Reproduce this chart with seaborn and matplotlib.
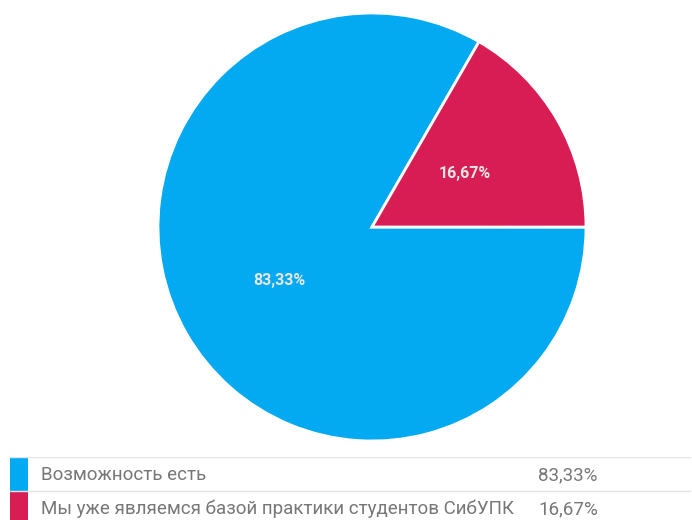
import numpy as np
import pandas as pd
import seaborn as sns
import matplotlib.pyplot as plt

categories = ["Возможность есть", "Мы уже являемся базой практики студентов СибУПК"]
values = [83.33, 16.67]
value_labels = ["83,33%", "16,67%"]
colors = ["#03a9f1", "#d81d55"]

sns.set_theme(style="white")
plt.rcParams['font.family'] = ['Roboto', 'DejaVu Sans']

fig = plt.figure(figsize=(6.92, 5.2), dpi=100)

# pie area
ax = fig.add_axes([158 / 692, 79 / 520, 428 / 692, 428 / 520])
wedges, texts, autotexts = ax.pie(
    values, colors=colors, startangle=60, counterclock=True,
    autopct=lambda p: f"{p:.2f}%".replace(".", ","), pctdistance=0.5,
    wedgeprops=dict(edgecolor="white", linewidth=2),
    textprops=dict(color="#e6e6e6", fontsize=11.5, fontweight="bold"))
ax.set_xlim(-1, 1)
ax.set_ylim(-1, 1)
ax.set_aspect("equal")

# legend table at the bottom
lax = fig.add_axes([0, 0, 1, 63 / 520])
lax.set_xlim(0, 692)
lax.set_ylim(63, 0)
lax.axis("off")
row_h = 34
for i, (cat, lab, col) in enumerate(zip(categories, value_labels, colors)):
    top = i * row_h
    lax.axhline(top, xmin=10 / 692, xmax=690 / 692, color="#e3e3e3", lw=1)
    lax.add_patch(plt.Rectangle((10, top + 1), 18, row_h - 1, color=col, lw=0))
    lax.text(41, top + row_h / 2 + 1, cat, va="center", ha="left",
             fontsize=13.5, color="#777777")
    lax.text(538, top + row_h / 2 + 1, lab, va="center", ha="left",
             fontsize=13.5, color="#777777")

fig.savefig("out.png", dpi=100)
